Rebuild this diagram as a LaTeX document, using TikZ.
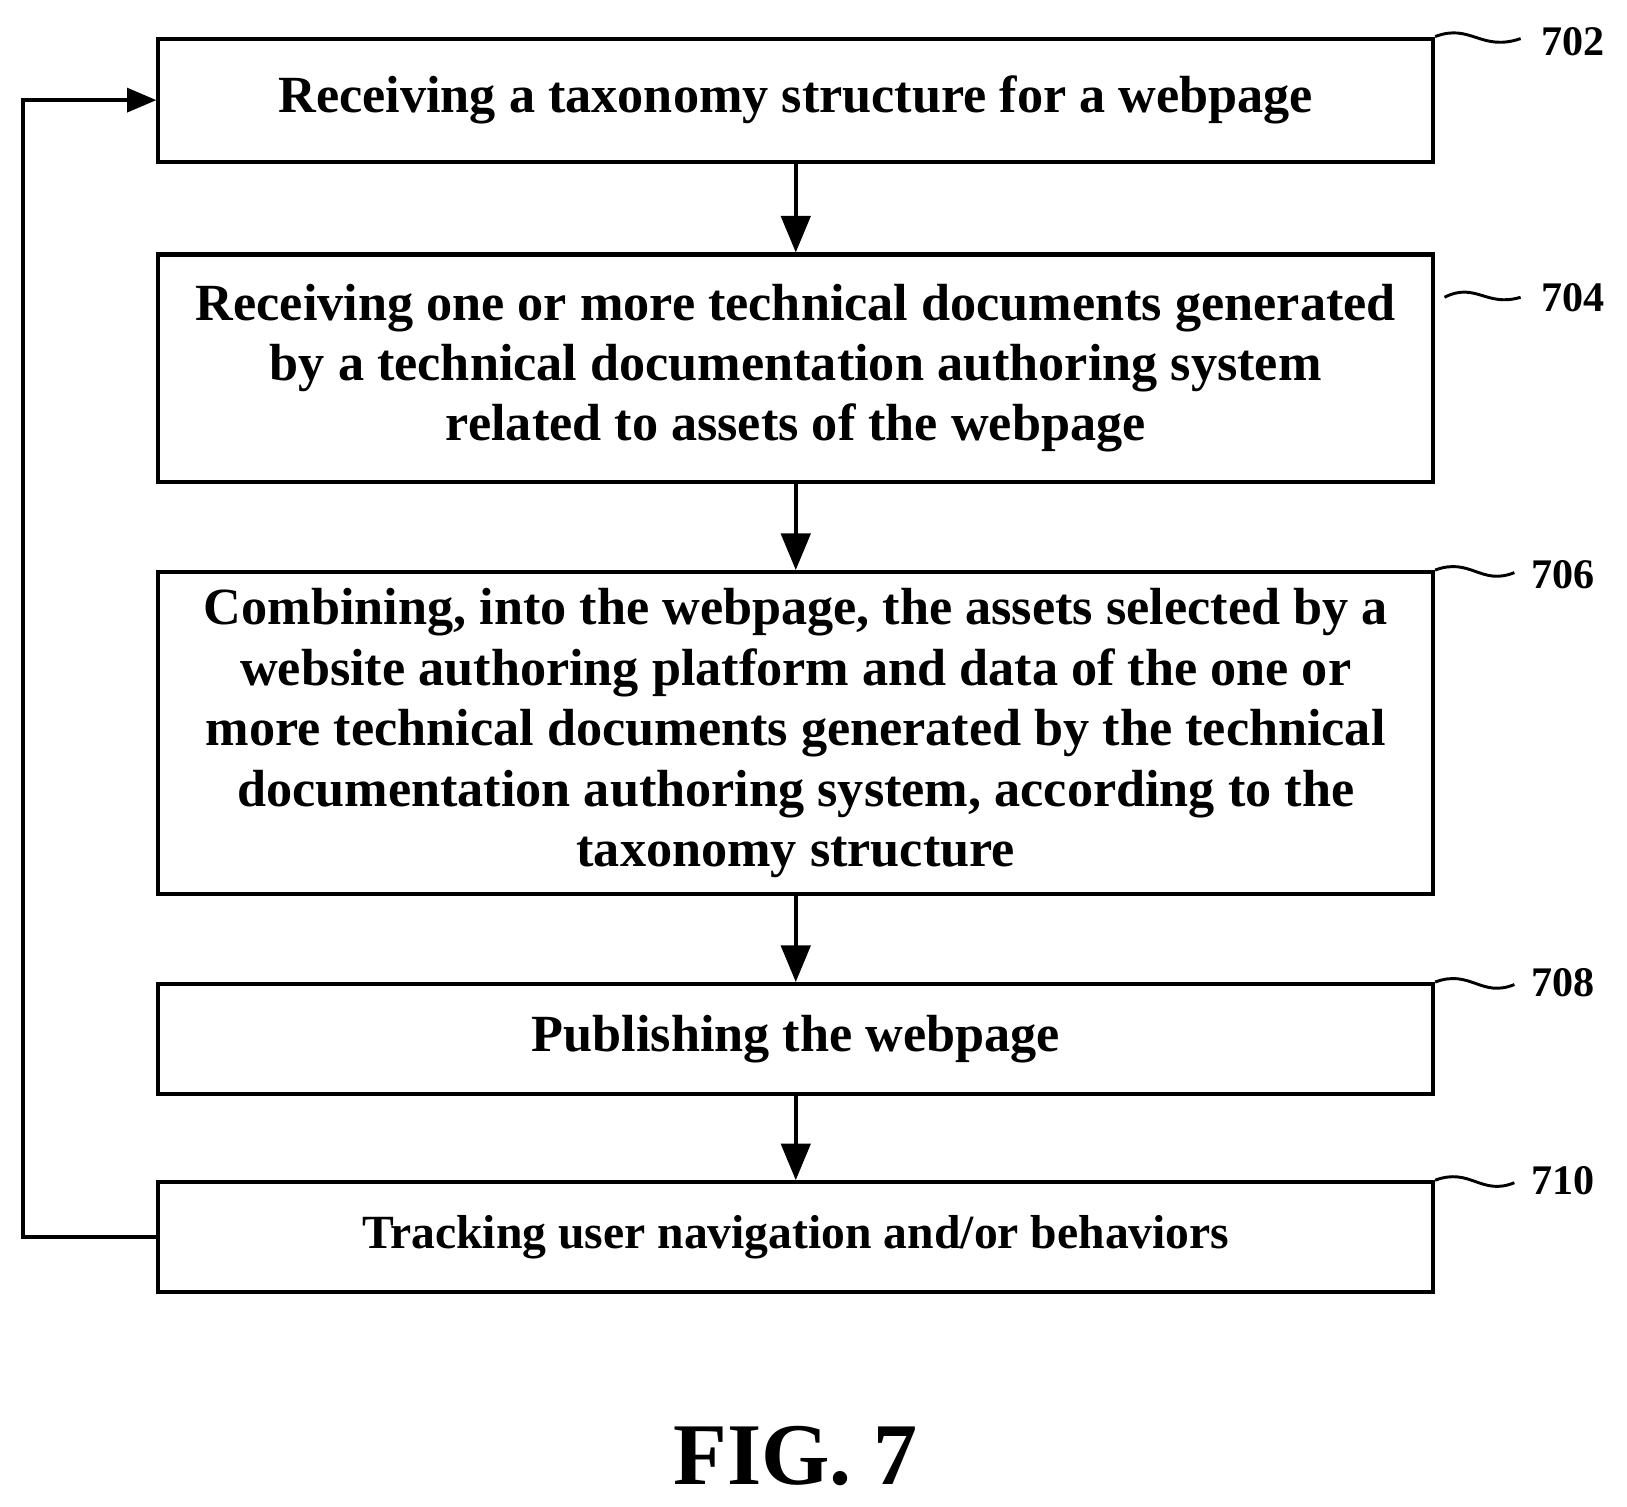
\documentclass[tikz,border=0pt]{standalone}
\usepackage{fontspec}
\setmainfont{Liberation Serif}
\usetikzlibrary{arrows.meta}
\begin{document}
\begin{tikzpicture}[x=0.02cm,y=-0.02cm,
  box/.style={draw,line width=2.2pt,minimum width=24.45cm,align=center,inner sep=0pt,font=\fontsize{28.5}{33}\selectfont\bfseries},
  arr/.style={line width=2.2pt,-{Triangle[length=20pt,width=16pt]}},
  larr/.style={line width=2.2pt,-{Triangle[length=16pt,width=13pt]}},
  wave/.style={line width=1.6pt},
  lab/.style={font=\fontsize{23}{26}\selectfont\bfseries,anchor=west}]
\useasboundingbox (0,0) rectangle (1560,1444);
\node[box,minimum height=118*0.02cm] (a) at (763,96) {Receiving a taxonomy structure for a webpage};
\node[box,minimum height=218*0.02cm] (b) at (763,353) {Receiving one or more technical documents generated\\by a technical documentation authoring system\\related to assets of the webpage};
\node[box,minimum height=309*0.02cm] (c) at (763,703) {Combining, into the webpage, the assets selected by a\\website authoring platform and data of the one or\\more technical documents generated by the technical\\documentation authoring system, according to the\\taxonomy structure};
\node[box,minimum height=105*0.02cm] (d) at (763,996) {Publishing the webpage};
\node[box,minimum height=105*0.02cm,font=\fontsize{26}{30}\selectfont\bfseries] (e) at (763,1186) {Tracking user navigation and/or behaviors};
\draw[arr] (a) -- (b);
\draw[arr] (b) -- (c);
\draw[arr] (c) -- (d);
\draw[arr] (d) -- (e);
\coordinate (l1) at (22,1186);
\coordinate (l2) at (22,96);
\draw[larr] (e.west) -- (l1) -- (l2) -- (a.west);
\draw[wave] (a.north east) .. controls (1410,22) and (1420,50) .. (1458,37); \node[lab] (na) at (1472,40) {702};
\draw[wave] (1385,285) .. controls (1415,270) and (1425,295) .. (1458,285); \node[lab] (nb) at (1472,285) {704};
\draw[wave] (c.north east) .. controls (1410,534) and (1420,562) .. (1452,549); \node[lab] (nc) at (1462,551) {706};
\draw[wave] (d.north east) .. controls (1410,929) and (1420,957) .. (1452,944); \node[lab] (nd) at (1462,942) {708};
\draw[wave] (e.north east) .. controls (1410,1119) and (1420,1147) .. (1452,1134); \node[lab] (ne) at (1462,1132) {710};
\node[font=\fontsize{48}{54}\selectfont\bfseries] (fig) at (763,1396) {FIG. 7};
\end{tikzpicture}
\end{document}
